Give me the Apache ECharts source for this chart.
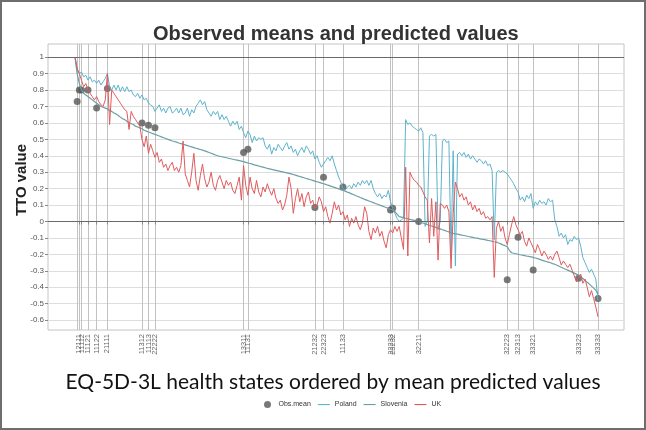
<!DOCTYPE html>
<html lang="en">
<head>
  <meta charset="UTF-8">
  <title>Observed means and predicted values</title>
  <script src="https://cdn.jsdelivr.net/npm/echarts@6/dist/echarts.min.js"></script>
  <style>html, body { margin: 0; padding: 0; background: #fff; }</style>
</head>
<body>
  <div id="chart" style="width: 646px; height: 430px;"></div>

  <script>
    // observed health states (position in the ordering, label, observed mean)
    const obsIdx = [1, 2, 3, 6, 10, 15, 31, 34, 37, 78, 80, 111, 115, 124, 146, 147, 159, 200, 205, 212, 233, 242]
    const obsStates = ['11211', '12111', '11112', '11121', '11122', '21111', '11312', '11113', '22222', '13311', '11131',
      '21232', '22323', '11133', '22233', '23232', '32211', '32223', '32313', '33321', '33323', '33333']
    const obsMean = [0.73, 0.80, 0.80, 0.80, 0.69, 0.81, 0.60, 0.585, 0.57, 0.42, 0.44,
      0.085, 0.27, 0.21, 0.07, 0.08, 0.0, -0.355, -0.095, -0.295, -0.345, -0.468]

    // predicted values for all 243 states, in plotted order
    const poland = [
      1.0, 0.93, 0.90, 0.91, 0.88, 0.89, 0.86, 0.88, 0.85, 0.86,
      0.84, 0.86, 0.83, 0.85, 0.87, 0.90, 0.82, 0.80, 0.83, 0.80,
      0.83, 0.79, 0.82, 0.79, 0.82, 0.79, 0.80, 0.77, 0.76, 0.78,
      0.75, 0.77, 0.74, 0.75, 0.72, 0.71, 0.70, 0.67, 0.69, 0.71,
      0.67, 0.69, 0.66, 0.69, 0.70, 0.66, 0.67, 0.69, 0.66, 0.69,
      0.65, 0.66, 0.69, 0.64, 0.68, 0.66, 0.70, 0.72, 0.74, 0.71,
      0.73, 0.68, 0.66, 0.64, 0.67, 0.65, 0.67, 0.62, 0.65, 0.62,
      0.64, 0.61, 0.58, 0.61, 0.59, 0.61, 0.56, 0.58, 0.54, 0.51,
      0.55, 0.53, 0.48, 0.52, 0.49, 0.51, 0.50, 0.51, 0.46, 0.44,
      0.47, 0.41, 0.45, 0.43, 0.47, 0.45, 0.43, 0.46, 0.48, 0.44,
      0.46, 0.42, 0.44, 0.40, 0.43, 0.45, 0.42, 0.46, 0.44, 0.41,
      0.43, 0.38, 0.40, 0.36, 0.33, 0.35, 0.37, 0.39, 0.37, 0.40,
      0.35, 0.31, 0.27, 0.24, 0.20, 0.19, 0.21, 0.22, 0.20, 0.23,
      0.21, 0.24, 0.22, 0.25, 0.23, 0.25, 0.22, 0.25, 0.20, 0.17,
      0.15, 0.17, 0.14, 0.16, 0.15, 0.19, 0.12, 0.08, 0.05, 0.02,
      0.00, 0.01, 0.02, 0.62, 0.59, 0.60, 0.58, 0.57, 0.56, 0.55,
      0.57, 0.54, -0.03, 0.00, 0.52, 0.53, 0.52, 0.53, -0.05, 0.00,
      0.49, 0.50, 0.48, 0.49, -0.19, 0.43, -0.27, 0.41, 0.42, 0.40,
      0.42, 0.39, 0.41, 0.38, 0.40, 0.38, 0.36, 0.38, 0.37, 0.35,
      0.37, 0.34, 0.35, 0.31, -0.11, 0.30, 0.31, 0.30, 0.31, 0.30,
      0.29, 0.27, 0.25, 0.23, 0.20, 0.18, 0.13, 0.15, 0.12, 0.16,
      0.14, 0.17, 0.08, 0.12, 0.10, 0.13, 0.11, 0.12, 0.10, 0.14,
      0.12, 0.13, 0.01, -0.03, -0.09, -0.07, -0.10, -0.08, -0.14, -0.11,
      -0.12, -0.09, -0.11, -0.10, -0.15, -0.22, -0.25, -0.28, -0.31, -0.29,
      -0.32, -0.35, -0.48
    ]
    const slovenia = [
      1.0, 0.90, 0.84, 0.80, 0.78, 0.77, 0.76, 0.75, 0.74, 0.73,
      0.72, 0.71, 0.70, 0.695, 0.69, 0.685, 0.675, 0.67, 0.66, 0.655,
      0.645, 0.635, 0.625, 0.62, 0.61, 0.60, 0.595, 0.59, 0.58, 0.575,
      0.57, 0.565, 0.555, 0.55, 0.545, 0.54, 0.535, 0.53, 0.525, 0.52,
      0.515, 0.51, 0.505, 0.50, 0.495, 0.49, 0.487, 0.483, 0.478, 0.474,
      0.47, 0.466, 0.462, 0.458, 0.454, 0.45, 0.446, 0.442, 0.438, 0.434,
      0.43, 0.425, 0.42, 0.415, 0.41, 0.405, 0.40, 0.397, 0.394, 0.391,
      0.388, 0.385, 0.382, 0.379, 0.376, 0.373, 0.37, 0.367, 0.364, 0.36,
      0.356, 0.353, 0.349, 0.345, 0.342, 0.338, 0.334, 0.331, 0.327, 0.323,
      0.32, 0.317, 0.314, 0.311, 0.308, 0.305, 0.302, 0.299, 0.296, 0.293,
      0.29, 0.286, 0.282, 0.278, 0.274, 0.27, 0.266, 0.262, 0.258, 0.254,
      0.25, 0.246, 0.242, 0.238, 0.234, 0.23, 0.226, 0.221, 0.217, 0.212,
      0.208, 0.203, 0.199, 0.194, 0.19, 0.185, 0.179, 0.174, 0.168, 0.163,
      0.157, 0.152, 0.146, 0.141, 0.135, 0.13, 0.125, 0.12, 0.115, 0.11,
      0.105, 0.10, 0.095, 0.09, 0.085, 0.08, 0.075, 0.07, 0.06, 0.045,
      0.03, 0.027, 0.024, 0.02, 0.017, 0.013, 0.01, 0.007, 0.003, 0.0,
      -0.005, -0.009, -0.014, -0.018, -0.023, -0.027, -0.032, -0.036, -0.041, -0.045,
      -0.05, -0.054, -0.059, -0.063, -0.068, -0.072, -0.075, -0.077, -0.08, -0.083,
      -0.085, -0.088, -0.091, -0.093, -0.096, -0.099, -0.101, -0.104, -0.107, -0.109,
      -0.112, -0.115, -0.117, -0.12, -0.123, -0.125, -0.131, -0.136, -0.142, -0.147,
      -0.153, -0.175, -0.19, -0.193, -0.196, -0.199, -0.202, -0.204, -0.207, -0.21,
      -0.212, -0.215, -0.218, -0.222, -0.226, -0.23, -0.235, -0.239, -0.243, -0.247,
      -0.251, -0.256, -0.26, -0.266, -0.272, -0.278, -0.284, -0.29, -0.296, -0.302,
      -0.308, -0.314, -0.32, -0.326, -0.336, -0.347, -0.358, -0.37, -0.381, -0.393,
      -0.405, -0.418, -0.44
    ]
    const uk = [
      1.0, 0.93, 0.90, 0.86, 0.82, 0.84, 0.80, 0.78, 0.76, 0.74,
      0.76, 0.73, 0.71, 0.70, 0.74, 0.90, 0.59, 0.80, 0.78, 0.76,
      0.74, 0.72, 0.70, 0.68, 0.67, 0.56, 0.67, 0.64, 0.62, 0.60,
      0.58, 0.50, 0.455, 0.52, 0.415, 0.47, 0.43, 0.39, 0.42, 0.36,
      0.38, 0.33, 0.35, 0.31, 0.34, 0.36, 0.31, 0.33, 0.30, 0.34,
      0.49, 0.29, 0.25, 0.21, 0.30, 0.415, 0.25, 0.19, 0.28, 0.35,
      0.26, 0.21, 0.24, 0.30, 0.22, 0.19, 0.25, 0.28, 0.24, 0.20,
      0.25, 0.22, 0.24, 0.19, 0.17, 0.22, 0.27, 0.13, 0.34, 0.22,
      0.16, 0.27, 0.20, 0.17, 0.25, 0.18, 0.15, 0.21, 0.18, 0.23,
      0.19, 0.16, 0.20, 0.14, 0.11, 0.13, 0.07, 0.10, 0.16, 0.27,
      0.20, 0.05, 0.14, 0.20, 0.12, 0.17, 0.09, 0.15, 0.18, 0.11,
      0.13, 0.08, 0.10, 0.15, 0.12, 0.06, 0.09, 0.03, -0.01, 0.05,
      0.12, 0.07, 0.10, 0.04, 0.06, 0.01, 0.04, -0.03, 0.02, -0.01,
      0.03, -0.02, -0.05, -0.01, 0.09, 0.05, -0.06, -0.11, -0.04, -0.07,
      -0.03, -0.09, -0.06, -0.12, -0.16, -0.08, -0.05, -0.07, -0.03, -0.06,
      -0.03, -0.10, -0.17, 0.33, -0.21, 0.30, 0.27, 0.25, 0.24, 0.22,
      0.21, 0.18, 0.15, 0.13, -0.13, 0.14, -0.09, 0.12, -0.235, 0.11,
      0.10, 0.08, 0.10, 0.06, -0.285, 0.05, 0.24, 0.20, 0.15, 0.17,
      0.13, 0.15, 0.10, 0.12, 0.07, 0.10, 0.06, 0.08, 0.04, 0.06,
      0.02, 0.03, 0.01, 0.03, -0.34, -0.04, 0.00, -0.06, -0.03, -0.10,
      -0.14, -0.08, -0.02, 0.03, -0.02, -0.05, -0.08, -0.06, -0.12, -0.15,
      -0.10, -0.13, -0.16, -0.19, -0.14, -0.17, -0.21, -0.18, -0.20, -0.23,
      -0.21, -0.235, -0.20, -0.18, -0.22, -0.265, -0.24, -0.26, -0.28, -0.26,
      -0.295, -0.33, -0.367, -0.34, -0.32, -0.376, -0.35, -0.40, -0.458, -0.42,
      -0.47, -0.52, -0.58
    ]

    const yTicks = [-0.6, -0.5, -0.4, -0.3, -0.2, -0.1, 0, 0.1, 0.2, 0.3, 0.4, 0.5, 0.6, 0.7, 0.8, 0.9, 1]
    const refLines = [1, 0]

    // category names: the observed states carry their code, the rest only a position
    const categories = []
    for (let i = 0; i < poland.length; i++) {
      let k = obsIdx.indexOf(i)
      categories.push(k >= 0 ? obsStates[k] : 'hs' + i)
    }
    const isObs = (i) => obsIdx.indexOf(i) >= 0

    let myChart = echarts.init(document.getElementById('chart'))

    const yMin = -0.66, yMax = 1.08
    // flat line icon for the legend (bbox kept 12x7 by the two moveTo points)
    const lineIcon = 'path://M0,0M12,7M0,3h12v1.1h-12z'

    let options = {
      animation: false,
      title: {
        text: 'Observed means and predicted values',
        left: 148,
        top: 19,
        textStyle: { fontFamily: 'Liberation Sans', fontWeight: 'bold', fontSize: 20, color: '#333' }
      },
      legend: {
        data: [
          { name: 'Obs.mean', icon: 'circle' },
          { name: 'Poland', icon: lineIcon },
          { name: 'Slovenia', icon: lineIcon },
          { name: 'UK', icon: lineIcon }
        ],
        left: 259,
        top: 396,
        itemWidth: 12,
        itemHeight: 7,
        itemGap: 7,
        textStyle: { fontFamily: 'Liberation Sans', fontSize: 7, color: '#333' }
      },
      grid: [
        // panel with border and horizontal grid
        { left: 48, right: 22, top: 44, bottom: 100, show: true, borderColor: '#c4c4c4', borderWidth: 1 },
        // data area (panel minus the x expansion)
        { left: 75, right: 48, top: 44, bottom: 100 }
      ],
      xAxis: [
        { gridIndex: 0, type: 'value', min: 0, max: 1, show: false },
        {
          gridIndex: 1,
          type: 'category',
          data: categories,
          boundaryGap: false,
          axisLine: { show: false },
          axisTick: { show: true, length: 3, interval: (i) => isObs(i), lineStyle: { color: '#888' } },
          axisLabel: {
            interval: (i) => isObs(i),
            rotate: 90,
            margin: 4,
            fontSize: 7.5,
            fontFamily: 'Liberation Sans',
            color: '#666',
            formatter: (v) => (v.indexOf('hs') === 0 ? '' : v)
          },
          splitLine: { show: true, interval: (i) => isObs(i), lineStyle: { color: '#c2c2c2', width: 1 } }
        }
      ],
      yAxis: [
        {
          gridIndex: 0,
          type: 'value',
          min: yMin,
          max: yMax,
          axisLine: { show: false },
          axisTick: { show: true, length: 3, customValues: yTicks, lineStyle: { color: '#888' } },
          axisLabel: {
            customValues: yTicks,
            margin: 4,
            fontSize: 8,
            fontFamily: 'Liberation Sans',
            color: '#555',
            formatter: (v) => String(+v.toFixed(1))
          },
          splitLine: { show: true, lineStyle: { color: '#dedede', width: 1 } }
        },
        { gridIndex: 1, type: 'value', min: yMin, max: yMax, show: false, splitLine: { show: false } }
      ],
      graphic: [
        {
          type: 'rect', silent: true,
          shape: { x: 1, y: 1, width: 644, height: 428 },
          style: { fill: 'none', stroke: '#6e6e6e', lineWidth: 2 }
        },
        {
          type: 'text', silent: true,
          x: 22, y: 180, rotation: Math.PI / 2,
          style: { text: 'TTO value', font: 'bold 15px "Liberation Sans"', fill: '#222', align: 'center', verticalAlign: 'middle' }
        },
        {
          type: 'text', silent: true,
          x: 333, y: 382,
          style: { text: 'EQ-5D-3L health states ordered by mean predicted values', font: '21px Lato', fill: '#111', align: 'center', verticalAlign: 'middle' }
        }
      ],
      series: [
        {
          type: 'line',
          xAxisIndex: 0,
          yAxisIndex: 0,
          data: [],
          silent: true,
          markLine: {
            silent: true,
            symbol: 'none',
            label: { show: false },
            lineStyle: { color: '#6a6a6a', width: 1, type: 'solid' },
            data: refLines.map((v) => ({ yAxis: v }))
          }
        },
        {
          name: 'Poland', type: 'line', xAxisIndex: 1, yAxisIndex: 1,
          data: poland, symbol: 'none', lineStyle: { color: '#5db3cc', width: 1 }, itemStyle: { color: '#5db3cc' }
        },
        {
          name: 'Slovenia', type: 'line', xAxisIndex: 1, yAxisIndex: 1,
          data: slovenia, symbol: 'none', lineStyle: { color: '#6b9ea6', width: 1.2 }, itemStyle: { color: '#6b9ea6' }
        },
        {
          name: 'UK', type: 'line', xAxisIndex: 1, yAxisIndex: 1,
          data: uk, symbol: 'none', lineStyle: { color: '#e05a5c', width: 1 }, itemStyle: { color: '#e05a5c' }
        },
        {
          name: 'Obs.mean', type: 'scatter', xAxisIndex: 1, yAxisIndex: 1,
          data: obsIdx.map((i, k) => [i, obsMean[k]]),
          symbol: 'circle', symbolSize: 7,
          itemStyle: { color: '#575757' }
        }
      ]
    }
    myChart.setOption(options)
  </script>
</body>
</html>
